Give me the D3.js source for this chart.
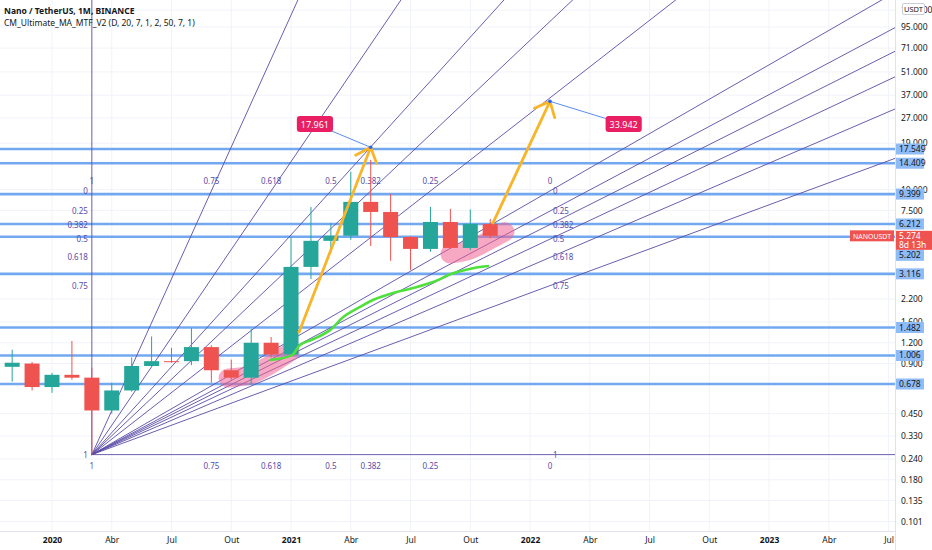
<!DOCTYPE html>
<html>
<head>
<meta charset="utf-8">
<script src="https://cdn.jsdelivr.net/npm/d3@7"></script>
<style>
  body { margin: 0; background: #fff; }
  svg { display: block; font-family: "Noto Sans", "Open Sans", sans-serif; }
</style>
</head>
<body>
<svg id="chart" width="932" height="550"></svg>
<script>
/* DATA - monthly candles, month index counted from Jan 2020 */
const months = [-3,-2,-1,0,1,2,3,4,5,6,7,8,9,10,11,12,13,14,15,16,17,18,19,20,21,22];
const opens  = [0.75,0.86,0.90,0.65,0.77,0.74,0.47,0.62,0.87,0.93,0.93,1.13,0.82,0.74,1.20,1.02,3.43,4.92,5.28,8.44,7.34,5.19,4.40,6.39,4.46,6.22];
const highs  = [0.95,1.09,0.92,0.79,1.23,0.85,0.69,0.98,1.31,1.12,1.47,1.16,0.95,1.45,1.30,5.19,7.87,6.31,12.8,15.1,9.42,5.25,7.87,7.66,7.60,6.67];
const lows   = [0.72,0.70,0.62,0.60,0.72,0.255,0.45,0.61,0.86,0.91,0.88,0.69,0.72,0.67,0.98,1.00,2.90,4.16,4.99,4.58,3.73,3.29,4.23,4.40,4.33,5.10];
const closes = [0.88,0.91,0.65,0.77,0.74,0.47,0.62,0.87,0.93,0.92,1.13,0.82,0.74,1.20,1.02,3.43,4.92,5.28,8.44,7.34,5.19,4.40,6.39,4.46,6.22,5.274];

// axis ticks
const xTicks = [0,3,6,9,12,15,18,21,24,27,30,33,36,39,42];
const xTickLabels = ["2020","Abr","Jul","Out","2021","Abr","Jul","Out","2022","Abr","Jul","Out","2023","Abr","Jul"];
const yTicks = [120,95,71,51,37,27,19,10,7.5,2.2,1.6,1.2,0.9,0.45,0.33,0.24,0.18,0.135,0.101];

// horizontal levels drawn by hand
const hLevels = [17.549,14.409,9.399,6.212,5.202,3.116,1.482,1.006,0.678];
const lastPrice = 5.274;

// fib speed fan: from March 2020 low to Feb 2022
const fanFrom = [2, 0.255];
const fanTo = [25, 9.82];
const fanLevels = [1, 0.75, 0.618, 0.5, 0.382, 0.25, 0];

// MA line (indicator)
const maMonths = [10.94,12.05,12.45,13.10,13.96,14.61,15.46,16.11,17.12,18.12,19.13,20.13,21.14,21.94];
const maValues = [0.946,1.013,1.164,1.26,1.43,1.71,1.97,2.17,2.39,2.56,2.78,3.14,3.37,3.47];

// pink highlight strokes
const pinkA = [[8.84,0.737],[9.94,0.768],[10.94,0.882],[11.95,1.056]];
const pinkB = [[19.98,4.10],[20.98,4.34],[21.99,4.99],[22.74,5.57]];

// projection arrows [start, tip] and their callouts
const arrows = [
  {from: [12.40, 1.39], to: [16, 17.961], label: "17.961", at: [13.2, 24.8]},
  {from: [22.14, 6.31], to: [25, 33.942], label: "33.942", at: [28.7, 24.8]}
];

/* SETUP */
const W = 932, H = 550, plotR = 895, plotB = 531;
const svg = d3.select("#chart");

const x = d3.scaleLinear().domain([0, 42]).range([52, 888.6]);
const y = d3.scaleLog().domain([0.24, 17.549]).range([459, 149]);

svg.append("defs").append("clipPath").attr("id", "plot")
  .append("rect").attr("x", 0).attr("y", 0).attr("width", plotR).attr("height", plotB);

const plot = svg.append("g").attr("clip-path", "url(#plot)");

// grid
plot.append("g").selectAll("line").data(yTicks).join("line")
  .attr("x1", 0).attr("x2", plotR)
  .attr("y1", d => y(d)).attr("y2", d => y(d))
  .attr("stroke", "#f0f3fa");
plot.append("g").selectAll("line").data(xTicks).join("line")
  .attr("y1", 0).attr("y2", plotB)
  .attr("x1", d => x(d)).attr("x2", d => x(d))
  .attr("stroke", "#f0f3fa");

// hand-drawn horizontal levels
plot.append("g").selectAll("line").data(hLevels).join("line")
  .attr("x1", 0).attr("x2", plotR)
  .attr("y1", d => y(d)).attr("y2", d => y(d))
  .attr("stroke", "#72a8f0").attr("stroke-width", 2.6);

// fan
const fanColor = "#5a4ca6";
const ox = x(fanFrom[0]), oy = y(fanFrom[1]);
const topY = y(fanTo[1]), endX = x(fanTo[0]);
const priceAt = L => fanTo[1] - L * (fanTo[1] - fanFrom[1]);
const timeAt = L => fanFrom[0] + Math.round((1 - L) * (fanTo[0] - fanFrom[0]));
const rays = [];
fanLevels.forEach(L => {
  rays.push([endX, y(priceAt(L))]);
  if (L !== 0) rays.push([x(timeAt(L)), topY]);
});
const fanG = plot.append("g");
fanG.selectAll("line").data(rays).join("line")
  .attr("x1", ox).attr("y1", oy)
  .attr("x2", d => ox + (d[0] - ox) * 20)
  .attr("y2", d => oy + (d[1] - oy) * 20)
  .attr("stroke", fanColor).attr("stroke-width", 0.9);

const fanText = fanG.append("g").attr("fill", fanColor).attr("font-size", 8);
fanLevels.forEach(L => {
  const tx = x(timeAt(L)), py = y(priceAt(L));
  fanText.append("text").attr("x", tx).attr("y", topY - 7).attr("text-anchor", "middle").text(L);
  fanText.append("text").attr("x", tx).attr("y", oy + 14).attr("text-anchor", "middle").text(L);
  fanText.append("text").attr("x", ox - 4).attr("y", py + 3).attr("text-anchor", "end").text(L);
  fanText.append("text").attr("x", endX + 3).attr("y", py + 3).text(L);
});

// pink highlights
const lineXY = d3.line().x(d => x(d[0])).y(d => y(d[1])).curve(d3.curveCatmullRom);
plot.append("g").selectAll("path").data([pinkA, pinkB]).join("path")
  .attr("d", lineXY)
  .attr("fill", "none").attr("stroke", "#f06292").attr("stroke-opacity", 0.55)
  .attr("stroke-width", 19).attr("stroke-linecap", "round").attr("stroke-linejoin", "round");

// candles
const candles = months.map((m, i) => ({m, o: opens[i], h: highs[i], l: lows[i], c: closes[i]}));
const col = d => d.c >= d.o ? "#26a69a" : "#ef5350";
const cg = plot.append("g").selectAll("g").data(candles).join("g");
cg.append("line")
  .attr("x1", d => x(d.m)).attr("x2", d => x(d.m))
  .attr("y1", d => y(d.h)).attr("y2", d => y(d.l))
  .attr("stroke", col).attr("stroke-width", 1);
cg.append("rect")
  .attr("x", d => x(d.m) - 7.5).attr("width", 15)
  .attr("y", d => y(Math.max(d.o, d.c)))
  .attr("height", d => Math.max(1, Math.abs(y(d.o) - y(d.c))))
  .attr("fill", col);

// MA line
plot.append("path")
  .datum(maMonths.map((m, i) => [m, maValues[i]]))
  .attr("d", lineXY)
  .attr("fill", "none").attr("stroke", "#4fe03c").attr("stroke-width", 2.6);

// arrows + callouts
arrows.forEach(a => {
  const x0 = x(a.from[0]), y0 = y(a.from[1]), x1 = x(a.to[0]), y1 = y(a.to[1]);
  const lx = x(a.at[0]), ly = y(a.at[1]);
  plot.append("line").attr("x1", x1).attr("y1", y1).attr("x2", lx).attr("y2", ly)
    .attr("stroke", "#5b8def").attr("stroke-width", 1);
  const ang = Math.atan2(y0 - y1, x0 - x1), len = 17, spread = 0.72;
  const legs = [ang - spread, ang + spread].map(t => [x1 + len * Math.cos(t), y1 + len * Math.sin(t)]);
  plot.append("path")
    .attr("d", `M${x0},${y0}L${x1},${y1}M${legs[0]}L${x1},${y1}L${legs[1]}`)
    .attr("fill", "none").attr("stroke", "#f9b52a").attr("stroke-width", 2.8)
    .attr("stroke-linecap", "round").attr("stroke-linejoin", "round");
  plot.append("circle").attr("cx", x1).attr("cy", y1).attr("r", 1.8).attr("fill", "#2962ff");
  const g = plot.append("g");
  const t = g.append("text").attr("x", lx).attr("y", ly + 3.5).attr("text-anchor", "middle")
    .attr("fill", "#fff").attr("font-size", 9).text(a.label);
  const bw = t.node().getComputedTextLength() + 8;
  g.insert("rect", "text").attr("x", lx - bw / 2).attr("y", ly - 8).attr("width", bw).attr("height", 16)
    .attr("rx", 3).attr("fill", "#e91e63");
});

// frame lines
svg.append("line").attr("x1", plotR + 0.5).attr("x2", plotR + 0.5).attr("y1", 0).attr("y2", H).attr("stroke", "#e0e3eb");
svg.append("line").attr("x1", 0).attr("x2", plotR).attr("y1", plotB + 0.5).attr("y2", plotB + 0.5).attr("stroke", "#e0e3eb");

// x axis
const xAxis = svg.append("g").attr("transform", `translate(0,${plotB})`)
  .call(d3.axisBottom(x).tickValues(xTicks).tickFormat((d, i) => xTickLabels[i]).tickSize(0).tickPadding(6));
xAxis.select(".domain").remove();
xAxis.selectAll("text").attr("fill", "#131722").attr("font-size", 8.5)
  .attr("font-family", "Noto Sans, sans-serif")
  .attr("font-weight", (d, i) => /^\d{4}$/.test(xTickLabels[i]) ? "bold" : "normal");

// y axis
const yAxis = svg.append("g").attr("transform", `translate(${plotR},0)`)
  .call(d3.axisRight(y).tickValues(yTicks).tickFormat(d3.format(".3f")).tickSize(0).tickPadding(6));
yAxis.select(".domain").remove();
yAxis.selectAll("text").attr("fill", "#131722").attr("font-size", 8.5).attr("font-family", "Noto Sans, sans-serif");

// USDT badge
svg.append("rect").attr("x", 902.5).attr("y", 3.5).attr("width", 22).attr("height", 11)
  .attr("fill", "#fff").attr("stroke", "#c9ccd4").attr("rx", 1.5);
svg.append("text").attr("x", 913.5).attr("y", 12).attr("text-anchor", "middle")
  .attr("font-size", 7.5).attr("fill", "#131722").text("USDT");

// level labels on the price scale; the last-price box stays put, others move down out of its way
const py = y(lastPrice);
const priceBox = {top: py - 5, h: 19};
const placed = [priceBox];
const lvlBoxes = hLevels.map(v => ({v, h: 11, top: y(v) - 5.5})).sort((a, b) => a.top - b.top);
lvlBoxes.forEach(b => {
  placed.forEach(p => {
    if (b.top < p.top + p.h && b.top + b.h > p.top) b.top = p.top + p.h;
  });
  placed.push(b);
});
const lab = svg.append("g").attr("font-size", 8.5);
lvlBoxes.forEach(b => {
  lab.append("rect").attr("x", 896).attr("y", b.top).attr("width", 28).attr("height", b.h).attr("fill", "#8fbcf6");
  lab.append("text").attr("x", 899).attr("y", b.top + 8.5).attr("fill", "#131722").text(d3.format(".3f")(b.v));
});
lab.append("rect").attr("x", 896).attr("y", priceBox.top).attr("width", 36).attr("height", priceBox.h).attr("fill", "#ef5350");
lab.append("text").attr("x", 899).attr("y", priceBox.top + 8).attr("fill", "#fff").text(d3.format(".3f")(lastPrice));
lab.append("text").attr("x", 899).attr("y", priceBox.top + 17).attr("fill", "#fff").text("8d 13h");
lab.append("rect").attr("x", 850).attr("y", py - 5.5).attr("width", 44).attr("height", 11).attr("fill", "#ef5350");
lab.append("text").attr("x", 872).attr("y", py + 3).attr("text-anchor", "middle")
  .attr("fill", "#fff").attr("font-size", 7.5)
  .attr("textLength", 38).attr("lengthAdjust", "spacingAndGlyphs").text("NANOUSDT");

// legend
svg.append("text").attr("x", 4).attr("y", 14).attr("font-size", 8.5).attr("font-weight", "bold")
  .attr("fill", "#131722").text("Nano / TetherUS, 1M, BINANCE");
svg.append("text").attr("x", 4).attr("y", 26).attr("font-size", 8.5)
  .attr("fill", "#131722").text("CM_Ultimate_MA_MTF_V2 (D, 20, 7, 1, 2, 50, 7, 1)");
</script>
</body>
</html>
